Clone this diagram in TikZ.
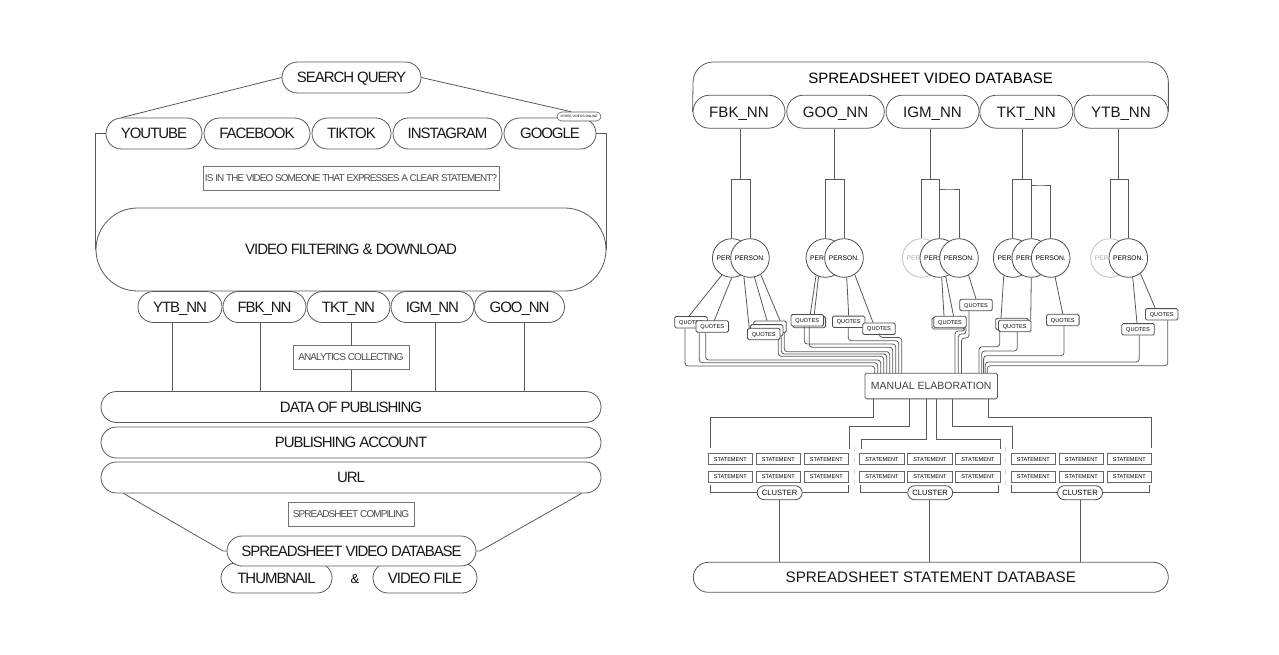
\documentclass[tikz,border=0pt]{standalone}
\usepackage{fontspec}
\setmainfont{Liberation Sans}
\newfontfamily\tightfont[LetterSpace=-7]{Liberation Sans}
\newfontfamily\tighterfont[LetterSpace=-9]{Liberation Sans}
\usetikzlibrary{shapes.misc}
\tikzset{
  wire/.style = {draw=black!65, line width=0.8pt},
  pill/.style = {rounded rectangle, draw=black!65, line width=0.8pt, fill=white,
    inner sep=0pt, minimum height=31pt, text=black!90, text height=10.7pt, text depth=0pt,
    font=\tightfont\fontsize{15}{18}\selectfont},
  tab/.style = {pill, minimum height=33pt, font=\fontsize{15.1}{18}\selectfont},
  asknote/.style = {rectangle, draw=black!55, line width=0.8pt, fill=white,
    inner sep=0pt, minimum height=24pt, text=black!70, text height=7.2pt, text depth=0pt,
    font=\tighterfont\fontsize{10}{12}\selectfont},
  person/.style = {circle, draw=black!70, line width=0.8pt, fill=white, inner sep=0pt,
    minimum size=38.6pt, text height=4.8pt, text depth=0pt, font=\fontsize{6.7}{8}\selectfont},
  ghost/.style = {person, draw=black!25, text=black!30},
  quotes/.style = {rectangle, rounded corners=1.5pt, draw=black!70, line width=0.8pt,
    fill=white, inner sep=0pt, minimum width=32.6pt, minimum height=11.4pt,
    text height=4pt, text depth=0pt, font=\fontsize{5.6}{7}\selectfont},
  statement/.style = {rectangle, draw=black!60, line width=0.9pt, fill=white, inner sep=0pt,
    minimum width=44.3pt, minimum height=11.3pt, text height=4pt, text depth=0pt,
    font=\fontsize{5.6}{7}\selectfont},
  cluster/.style = {rounded rectangle, draw=black!70, line width=0.8pt, fill=white,
    inner sep=0pt, minimum width=45pt, minimum height=14pt, text height=5.4pt, text depth=0pt,
    font=\fontsize{7.6}{9}\selectfont},
  faint/.style = {draw=black!15, line width=0.8pt, dash pattern=on 5pt off 6pt}
}
\begin{document}
\begin{tikzpicture}[x=1pt,y=-1pt]
\useasboundingbox (0,0) rectangle (1279,655);
% left panel
\node[pill, minimum width=139pt] (search) at (351.5,77.5) {SEARCH QUERY};
\node[pill, minimum width=96pt] (youtube) at (154,133.5) {YOUTUBE};
\node[pill, minimum width=106pt] (facebook) at (257,133.5) {FACEBOOK};
\node[pill, minimum width=79pt] (tiktok) at (351.5,133.5) {TIKTOK};
\node[pill, minimum width=109pt] (instagram) at (447.5,133.5) {INSTAGRAM};
\node[pill, minimum width=92pt] (google) at (550,133.5) {GOOGLE};
\node[rounded rectangle, draw=black!65, line width=0.6pt, fill=white, inner sep=0pt,
  minimum width=44pt, minimum height=9pt, font=\fontsize{3.2}{4}\selectfont] (other) at (579,116.5) {OTHER VIDEOS ONLINE};
\draw[wire] (search.west) -- (youtube.north west);
\draw[wire] (search.east) -- ([xshift=-8pt]other.north);
\node[asknote, minimum width=296pt, font=\tighterfont\fontsize{9.9}{12}\selectfont] (ask) at (351,178) {IS IN THE VIDEO SOMEONE THAT EXPRESSES A CLEAR STATEMENT?};
\node[pill, minimum width=510pt, minimum height=83pt] (filter) at (351,249.5) {VIDEO FILTERING \& DOWNLOAD};
\draw[wire] (youtube.west) -| (filter.west);
\draw[wire] (google.east) -| (filter.east);
\node[pill, minimum width=84pt] (ytb) at (180,307) {YTB\_NN};
\node[pill, minimum width=83pt] (fbk) at (264.5,307) {FBK\_NN};
\node[pill, minimum width=83pt] (tkt) at (348.5,307) {TKT\_NN};
\node[pill, minimum width=83pt] (igm) at (432.5,307) {IGM\_NN};
\node[pill, minimum width=90pt] (goo) at (519.5,307) {GOO\_NN};
\node[pill, minimum width=500pt] (publishing) at (351,407) {DATA OF PUBLISHING};
\node[pill, minimum width=500pt] (account) at (351,442.5) {PUBLISHING ACCOUNT};
\node[pill, minimum width=500pt] (url) at (351,477.5) {URL};
\draw[wire] ([xshift=-8pt]ytb.south) -- ([xshift=-8pt]ytb.south |- publishing.north);
\draw[wire] ([xshift=-4pt]fbk.south) -- ([xshift=-4pt]fbk.south |- publishing.north);
\draw[wire] ([xshift=3pt]tkt.south) -- ([xshift=3pt]tkt.south |- publishing.north);
\draw[wire] ([xshift=3pt]igm.south) -- ([xshift=3pt]igm.south |- publishing.north);
\draw[wire] ([xshift=5pt]goo.south) -- ([xshift=5pt]goo.south |- publishing.north);
\node[asknote, minimum width=116pt] (analytics) at (351,357) {ANALYTICS COLLECTING};
\node[asknote, minimum width=126pt] (compiling) at (351,514) {SPREADSHEET COMPILING};
\node[pill, minimum width=111pt, minimum height=30pt] (thumbnail) at (276.5,578) {THUMBNAIL};
\node[pill, minimum width=104pt, minimum height=30pt] (videofile) at (425,578) {VIDEO FILE};
\node[font=\tightfont\fontsize{13}{15}\selectfont, inner sep=0pt] (amp) at (355,579) {\&};
\node[pill, minimum width=249pt, minimum height=30pt] (videodb) at (351.5,551) {SPREADSHEET VIDEO DATABASE};
\draw[wire] ([xshift=7pt]url.south west) -- (223,551) -- (videodb.west);
\draw[wire] ([xshift=-4pt]url.south east) -- (480,551) -- (videodb.east);
% right panel
\node[font=\fontsize{15}{18}\selectfont, inner sep=0pt] (title) at (930.5,78.5) {SPREADSHEET VIDEO DATABASE};
\node[tab, minimum width=92pt] (fbkv) at (739,111.7) {FBK\_NN};
\node[tab, minimum width=97.5pt] (goov) at (835.5,111.7) {GOO\_NN};
\node[tab, minimum width=93pt] (igmv) at (932.5,111.7) {IGM\_NN};
\node[tab, minimum width=93pt] (tktv) at (1026.3,111.7) {TKT\_NN};
\node[tab, minimum width=94pt] (ytbv) at (1121,111.7) {YTB\_NN};
\draw[wire, rounded corners=20pt] (fbkv.west) -- (693.3,62) -- (1168.3,62) -- (ytbv.east);
% persons
\node[person] (p1) at (731.7,258) {PERSON.};
\node[person] (p2) at (750,258) {PERSON.};
\node[person] (p3) at (825.3,258) {PERSON.};
\node[person] (p4) at (844,258) {PERSON.};
\node[ghost] (p5) at (921.7,258) {PERSON.};
\node[person] (p6) at (939.3,258) {PERSON.};
\node[person] (p7) at (959,258) {PERSON.};
\node[person] (p8) at (1012.7,258) {PERSON.};
\node[person] (p9) at (1031.3,258) {PERSON.};
\node[person] (p10) at (1050.7,258) {PERSON.};
\node[ghost] (p11) at (1110,258) {PERSON.};
\node[person] (p12) at (1128.3,258) {PERSON.};
\coordinate (tfbk) at (740.7,179.3);
\coordinate (tgoo) at (834,179.3);
\coordinate (tigm) at (930,179.3);
\coordinate (bigm) at (950,189);
\coordinate (ttkt) at (1022,179.3);
\coordinate (btkt) at (1040,185);
\coordinate (tytb) at (1118,179.3);
\draw[wire] (fbkv.south -| tfbk) -- (tfbk);
\draw[wire] (goov.south -| tgoo) -- (tgoo);
\draw[wire] (igmv.south -| tigm) -- (tigm);
\draw[wire] (tktv.south -| ttkt) -- (ttkt);
\draw[wire] (ytbv.south -| tytb) -- (tytb);
\draw[wire] (p1.north) |- (tfbk) -| (p2.north);
\draw[wire] (p3.north) |- (tgoo) -| (p4.north);
\draw[wire] (p5.north) |- (tigm) -| (p6.north);
\draw[wire] (p6.north) |- (bigm) -| (p7.north);
\draw[wire] (p8.north) |- (ttkt) -| (p9.north);
\draw[wire] (p9.north) |- (btkt) -| (p10.north);
\draw[wire] (p11.north) |- (tytb) -| (p12.north);
% quotes
\node[quotes] (q1) at (691,322.2) {QUOTES};
\node[quotes] (q2) at (712.3,326.5) {QUOTES};
\node[quotes] (q3a) at (770,326.7) {QUOTES};
\node[quotes] (q3b) at (766.7,330.3) {QUOTES};
\node[quotes] (q3c) at (763.7,334) {QUOTES};
\node[quotes] (q4b) at (809.3,322) {QUOTES};
\node[quotes] (q4a) at (807.3,320.2) {QUOTES};
\node[quotes] (q5) at (848.7,321.8) {QUOTES};
\node[quotes] (q6) at (879,328.7) {QUOTES};
\node[quotes] (q7b) at (948.3,323.2) {QUOTES};
\node[quotes] (q7a) at (950,322) {QUOTES};
\node[quotes] (q8) at (976,305) {QUOTES};
\node[quotes] (q9b) at (1012,324) {QUOTES};
\node[quotes] (q9a) at (1014.7,326) {QUOTES};
\node[quotes] (q10) at (1062.8,320) {QUOTES};
\node[quotes] (q11) at (1138,329.3) {QUOTES};
\node[quotes] (q12) at (1161.7,314.3) {QUOTES};
\draw[wire] (p1.-120) -- ([xshift=-2pt]q1.north);
\draw[wire] (p1.-90) -- ([xshift=2pt]q2.north);
\draw[wire] (p2.-108) -- ([xshift=-14.5pt]q3c.north);
\draw[wire] (p2.-77) -- ([xshift=-3pt]q3a.north);
\draw[wire] (p2.-57) -- ([xshift=10pt]q3a.north);
\draw[wire] (p3.-118) -- ([xshift=3pt]q4a.north);
\draw[wire] (p3.-110) -- ([xshift=7pt]q4a.north);
\draw[wire] (p4.-82) -- (q5.north);
\draw[wire] (p4.-57) -- ([xshift=-6pt]q6.north);
\draw[wire] (p6.-83) -- ([xshift=-6pt]q7a.north);
\draw[wire] (p6.-71) -- ([xshift=3.5pt]q7a.north);
\draw[wire] (p7.-61) -- (q8.north);
\draw[wire] (p8.-117) -- ([xshift=-11pt]q9b.north);
\draw[wire] (p9.-90) -- ([xshift=16pt]q9a.north);
\draw[wire] (p10.-77) -- (q10.north);
\draw[wire] (p12.-77) -- ([xshift=-1pt]q11.north);
\draw[wire] (p12.-52) -- ([xshift=-6.5pt]q12.north);
% routes into the elaboration box
\node[rectangle, rounded corners=1.5pt, draw=black!65, line width=0.8pt, fill=white, inner sep=0pt,
  minimum width=132.5pt, minimum height=25.7pt, text=black!75, text height=7.5pt, text depth=0pt,
  font=\fontsize{10.5}{12}\selectfont] (manual) at (931.2,386) {MANUAL ELABORATION};
\foreach \qn/\dx/\yr/\xe in {q1/-6/366/874.7, q2/-13/362.7/877.7, q2/-6.6/360/880.7,
    q3c/14.6/356.3/883.7, q3b/14.6/354/886.7, q3a/14.3/351.7/889.7,
    q4a/2/347.3/892.7, q4a/-3/344/895.7, q5/-0.4/340.7/898.7, q6/0.3/337.4/901.7,
    q7a/15/331/955, q7a/16/334/958.3, q8/-7/338/961.5,
    q9b/-12.3/346.7/979, q9a/2.6/351/981.7, q10/1.2/355.7/983.6,
    q11/1.3/362/985.3, q12/6/365.7/987.3}
  \draw[wire, rounded corners=3pt] ([xshift=\dx pt]\qn.south) |- (\xe,\yr) -- (\xe,0 |- manual.north);
% statements
\foreach \sname/\sx in {a/730.3, b/778.3, c/826.3, d/882, e/930, f/978, g/1033.3, h/1081.3, i/1129.3}{
  \node[statement] (s\sname1) at (\sx,459) {STATEMENT};
  \node[statement] (s\sname2) at (\sx,476.7) {STATEMENT};
}
\coordinate (ea) at (710.3,448.3);
\coordinate (eb) at (849.3,449.3);
\coordinate (ec) at (861,449.3);
\coordinate (ed) at (1000,449.3);
\coordinate (ee) at (1012,449.3);
\coordinate (ef) at (1151,448.3);
\draw[wire] ([xshift=-58pt]manual.south) |- (710.3,417.3) -- (ea);
\draw[wire] ([xshift=-21.5pt]manual.south) |- (849.3,426.7) -- (eb);
\draw[wire] ([xshift=-5.2pt]manual.south) |- (861,439.3) -- (ec);
\draw[wire] ([xshift=5.1pt]manual.south) |- (1000,439.3) -- (ed);
\draw[wire] ([xshift=21.5pt]manual.south) |- (1012,426.7) -- (ee);
\draw[wire] ([xshift=56.8pt]manual.south) |- (1151,417.3) -- (ef);
% faint separators
\coordinate (fa) at (854.3,447);
\coordinate (fb) at (854.3,488);
\coordinate (fc) at (1005.7,447);
\coordinate (fd) at (1005.7,488);
\draw[faint] (fa) -- (fb);
\draw[faint] (fc) -- (fd);
% clusters
\node[tab, minimum width=475pt, minimum height=30pt, font=\fontsize{15.2}{18}\selectfont] (statementdb) at (930.8,577.3) {SPREADSHEET STATEMENT DATABASE};
\node[cluster] (c1) at (779.7,492.7) {CLUSTER};
\node[cluster] (c2) at (930.2,492.7) {CLUSTER};
\node[cluster] (c3) at (1080,492.7) {CLUSTER};
\draw[wire] (710.3,485) |- (c1.west);
\draw[wire] (c1.east) -| (848.7,485);
\draw[wire] (860.3,485) |- (c2.west);
\draw[wire] (c2.east) -| (998.3,485);
\draw[wire] (1011.3,485) |- (c3.west);
\draw[wire] (c3.east) -| (1149.7,485);
\draw[wire] (c1.south) -- (c1.south |- statementdb.north);
\draw[wire] ([xshift=-1pt]c2.south) -- ([xshift=-1pt]c2.south |- statementdb.north);
\draw[wire] (c3.south) -- (c3.south |- statementdb.north);
\end{tikzpicture}
\end{document}
